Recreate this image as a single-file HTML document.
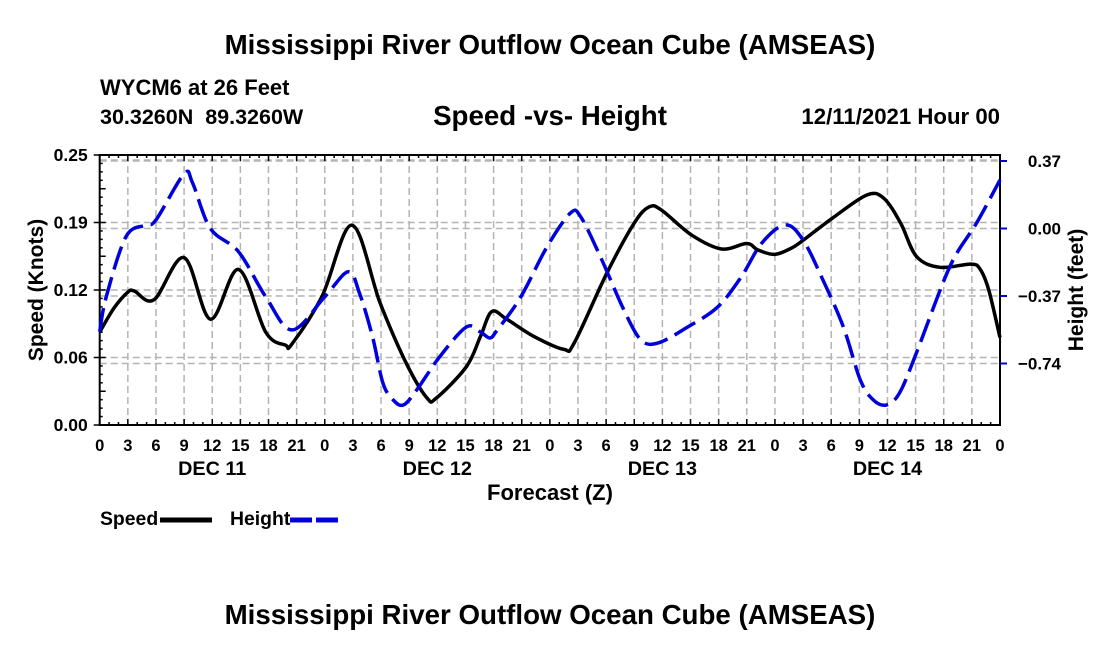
<!DOCTYPE html>
<html><head><meta charset="utf-8"><style>
html,body{margin:0;padding:0;background:#fff;}
svg{display:block;font-family:"Liberation Sans",Arial,sans-serif;font-weight:bold;}
</style></head><body>
<svg id="chart" width="1100" height="650" viewBox="0 0 1100 650">
<text x="550" y="54" font-size="27.7" text-anchor="middle">Mississippi River Outflow Ocean Cube (AMSEAS)</text>
<text x="100" y="95" font-size="22">WYCM6 at 26 Feet</text>
<text x="100" y="124" font-size="21.5" xml:space="preserve">30.3260N  89.3260W</text>
<text x="550" y="125" font-size="27.7" text-anchor="middle">Speed -vs- Height</text>
<text x="1000" y="124" font-size="22.2" text-anchor="end">12/11/2021 Hour 00</text>
<g id="grid"></g>
<g id="axes"></g>
<g id="series"></g>
<text x="550" y="500" font-size="22" text-anchor="middle">Forecast (Z)</text>
<text transform="translate(43,290) rotate(-90)" font-size="21" text-anchor="middle">Speed (Knots)</text>
<text transform="translate(1083,290) rotate(-90)" font-size="21" text-anchor="middle">Height (feet)</text>
<g>
<text x="100" y="525" font-size="19.4">Speed</text>
<line x1="160" y1="520" x2="212" y2="520" stroke="#000" stroke-width="5"/>
<text x="230" y="525" font-size="19.4">Height</text>
<line x1="290" y1="520" x2="342" y2="520" stroke="#0000dd" stroke-width="5" stroke-dasharray="22,4"/>
</g>
<text x="550" y="624" font-size="27.7" text-anchor="middle">Mississippi River Outflow Ocean Cube (AMSEAS)</text>
</svg>
<script>
const speedHours=[0,1.5,3,3.7,5.8,9,11.8,14.8,17.7,19.8,20.5,23.7,26.9,29.9,32.7,34.9,35.9,39.1,40.6,41.8,43.4,46.3,49.5,50.6,54.1,57,58.6,59.9,63.1,66.3,69,70.2,72,73.8,75,78.2,81.8,83.6,85.4,87.1,89.6,92.9,93.9,94.8,96];
const speedValues=[0.086,0.108,0.123,0.124,0.116,0.155,0.098,0.144,0.086,0.074,0.075,0.119,0.185,0.113,0.057,0.025,0.025,0.054,0.082,0.105,0.098,0.082,0.070,0.076,0.141,0.187,0.202,0.199,0.176,0.163,0.168,0.162,0.158,0.164,0.171,0.192,0.213,0.21,0.187,0.156,0.146,0.149,0.144,0.125,0.081];
const heightHours=[0,0.7,2.8,4.9,6,9,9.9,11.8,14.8,17.7,20.5,24,26.5,27.7,29.1,30.2,31.3,32.4,33.8,36.3,39.1,40.6,41.6,42.4,44.9,47.7,50.2,51.3,53.4,55.9,57.7,59.5,62.7,65.9,68.4,70.6,73.1,75,77.1,79.3,81.1,82.5,83.9,85.3,87.1,89.9,91.4,93.5,96];
const heightValues=[-0.566,-0.374,-0.045,0.019,0.047,0.30,0.25,0.00,-0.127,-0.374,-0.556,-0.374,-0.237,-0.354,-0.595,-0.847,-0.94,-0.967,-0.885,-0.70,-0.54,-0.567,-0.60,-0.556,-0.375,-0.10,0.085,0.063,-0.156,-0.447,-0.61,-0.628,-0.54,-0.43,-0.266,-0.08,0.02,-0.063,-0.28,-0.54,-0.83,-0.94,-0.967,-0.90,-0.68,-0.30,-0.135,0.03,0.266];
const leftTickValues=[0,0.0625,0.125,0.1875,0.25];
const leftTickLabels=["0.00","0.06","0.12","0.19","0.25"];
const rightTickValues=[0.37,0,-0.37,-0.74];
const rightTickLabels=["0.37","0.00","\u22120.37","\u22120.74"];
const dayLabels=["DEC 11","DEC 12","DEC 13","DEC 14"];

const X0=99.7,X1=1000,YT=155,YB=425;
const xS=h=>X0+h*(X1-X0)/96;
const yL=s=>YB-s*(YB-YT)/0.25;
const yR=v=>228.5-v/0.37*67.5;
const NS="http://www.w3.org/2000/svg";
function mk(tag,attrs,parent){const e=document.createElementNS(NS,tag);for(const k in attrs)e.setAttribute(k,attrs[k]);parent.appendChild(e);return e;}
const grid=document.getElementById('grid'),axes=document.getElementById('axes'),series=document.getElementById('series');
const gs={stroke:"#b4b4b4","stroke-width":1.5,"stroke-dasharray":"7,4"};
for(let h=3;h<96;h+=3){const l=mk('line',Object.assign({x1:xS(h),x2:xS(h),y1:YT,y2:YB},gs),grid);

}
leftTickValues.forEach(v=>{if(v<=0)return;const y=v>=0.25?YT+5:yL(v);const l=mk('line',Object.assign({x1:X0,x2:X1,y1:y,y2:y},gs),grid);

});
rightTickValues.forEach(v=>{const l=mk('line',Object.assign({x1:X0,x2:X1,y1:yR(v),y2:yR(v)},gs),grid);

});
const fr=mk('path',{d:`M${X0},${YT}H${X1}V${YB}H${X0}Z`,fill:"none",stroke:"#000","stroke-width":2},axes);


for(let h=0;h<=96;h+=1){const len=h%3==0?6:3;
mk('line',{x1:xS(h),x2:xS(h),y1:YB,y2:YB-len,stroke:"#000","stroke-width":1.5},axes);
mk('line',{x1:xS(h),x2:xS(h),y1:YT,y2:YT+len,stroke:"#000","stroke-width":1.5},axes);}
for(let i=0;i<=32;i++){const y=YB-i*(YB-YT)/32;mk('line',{x1:X0,x2:X0+(i%4==0?6:3),y1:y,y2:y,stroke:"#000","stroke-width":1.5},axes);}
for(let h=0;h<=96;h+=3){const t=mk('text',{x:xS(h),y:451,"font-size":16.5,"text-anchor":"middle"},axes);t.textContent=String(h%24);

}
dayLabels.forEach((d,i)=>{const t=mk('text',{x:xS(12+24*i),y:475,"font-size":19.8,"text-anchor":"middle"},axes);t.textContent=d;

});
leftTickValues.forEach((v,i)=>{mk('line',{x1:X0-6,x2:X0,y1:yL(v),y2:yL(v),stroke:"#000","stroke-width":1.5},axes);
const t=mk('text',{x:X0-12,y:yL(v)+6,"font-size":17.5,"text-anchor":"end"},axes);t.textContent=leftTickLabels[i];

});
rightTickValues.forEach((v,i)=>{mk('line',{x1:X1,x2:X1+7,y1:yR(v),y2:yR(v),stroke:"#0000dd","stroke-width":2},axes);
const t=mk('text',{x:1061,y:yR(v)+6,"font-size":17,"text-anchor":"end"},axes);t.textContent=rightTickLabels[i];

});
function smooth(pts){let d=`M${pts[0][0]},${pts[0][1]}`;for(let i=0;i<pts.length-1;i++){const p0=pts[Math.max(0,i-1)],p1=pts[i],p2=pts[i+1],p3=pts[Math.min(pts.length-1,i+2)];
const c1=[p1[0]+(p2[0]-p0[0])/6,p1[1]+(p2[1]-p0[1])/6],c2=[p2[0]-(p3[0]-p1[0])/6,p2[1]-(p3[1]-p1[1])/6];
d+=`C${c1[0]},${c1[1]} ${c2[0]},${c2[1]} ${p2[0]},${p2[1]}`;}return d;}
const sp=mk('path',{d:smooth(speedHours.map((h,i)=>[xS(h),yL(speedValues[i])])),fill:"none",stroke:"#000","stroke-width":3.5},series);


const hp=mk('path',{d:smooth(heightHours.map((h,i)=>[xS(h),yR(heightValues[i])])),fill:"none",stroke:"#0000dd","stroke-width":3.5,"stroke-dasharray":"24,8"},series);


</script>
</body></html>
